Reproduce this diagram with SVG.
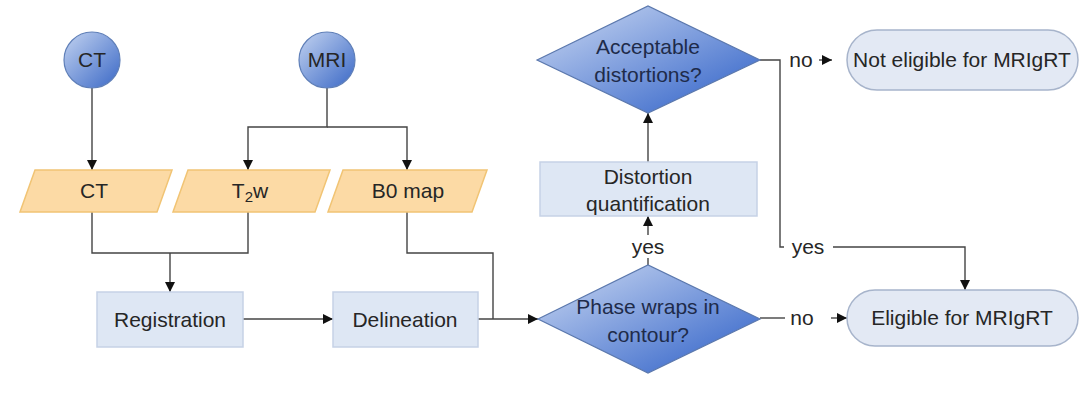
<svg xmlns="http://www.w3.org/2000/svg" width="1082" height="397" viewBox="0 0 1082 397">
<defs>
<linearGradient id="gBlue" x1="0" y1="0" x2="1" y2="1">
<stop offset="0" stop-color="#c3d3f0"/>
<stop offset="1" stop-color="#3a68c6"/>
</linearGradient>
<linearGradient id="gDia" x1="0" y1="0" x2="1" y2="1">
<stop offset="0.1" stop-color="#bccdee"/>
<stop offset="0.9" stop-color="#3b6acb"/>
</linearGradient>
<marker id="arr" viewBox="0 0 10 10" refX="10" refY="5" markerWidth="10" markerHeight="10" markerUnits="userSpaceOnUse" orient="auto">
<path d="M0,0 L10,5 L0,10 Z" fill="#111"/>
</marker>
<style>
text{font-family:"Liberation Sans",Arial,sans-serif;font-size:21px;fill:#262626;text-anchor:middle;}
.circ{fill:url(#gBlue);stroke:#5f7fb8;stroke-width:1.2;}
.dia{fill:url(#gDia);stroke:#5b78ad;stroke-width:1.2;}
.dt{fill:#1e2b4a;}
.para{fill:#fcdaa5;stroke:#f1c474;stroke-width:1.5;}
.box{fill:#dee7f4;stroke:#c6d2e6;stroke-width:1.5;}
.term{fill:#e3e9f4;stroke:#a7b4cb;stroke-width:1.5;}
.con{fill:none;stroke:#444;stroke-width:1.4;}
</style>
</defs>
<g id="connectors">
<path class="con" d="M92,88 V170" marker-end="url(#arr)"/>
<path class="con" d="M327,88 V127 H248 V170" marker-end="url(#arr)"/>
<path class="con" d="M327,127 H407 V170" marker-end="url(#arr)"/>
<path class="con" d="M92,212 V253 H248 V212"/>
<path class="con" d="M170,253 V292" marker-end="url(#arr)"/>
<path class="con" d="M243,319 H333" marker-end="url(#arr)"/>
<path class="con" d="M407,212 V253 H493 V319"/>
<path class="con" d="M478,319 H538" marker-end="url(#arr)"/>
<path class="con" d="M648,265 V258"/>
<path class="con" d="M648,235 V216" marker-end="url(#arr)"/>
<path class="con" d="M648,162 V113" marker-end="url(#arr)"/>
<path class="con" d="M760,60 H780 V247 H784"/>
<path class="con" d="M819,60 H832" marker-end="url(#arr)"/>
<path class="con" d="M833,247 H965 V290" marker-end="url(#arr)"/>
<path class="con" d="M760,318 H785"/>
<path class="con" d="M831,318 H847" marker-end="url(#arr)"/>
<text x="801" y="67">no</text>
<text x="808" y="254">yes</text>
<text x="802" y="325">no</text>
<text x="648" y="254">yes</text>
</g>
<g id="ct-source">
<circle class="circ" cx="92" cy="60" r="28"/>
<text x="92" y="67">CT</text>
</g>
<g id="mri-source">
<circle class="circ" cx="327" cy="60" r="28"/>
<text x="327" y="67">MRI</text>
</g>
<g id="ct-data">
<polygon class="para" points="35,170 172,170 157,212 20,212"/>
<text x="94" y="198">CT</text>
</g>
<g id="t2w-data">
<polygon class="para" points="188,170 330,170 315,212 173,212"/>
<text x="250" y="198">T<tspan font-size="15" dy="4">2</tspan><tspan dy="-4">w</tspan></text>
</g>
<g id="b0-data">
<polygon class="para" points="343,170 487,170 472,212 328,212"/>
<text x="408" y="198">B0 map</text>
</g>
<g id="registration">
<rect class="box" x="97" y="292" width="146" height="55"/>
<text x="170" y="327">Registration</text>
</g>
<g id="delineation">
<rect class="box" x="333" y="292" width="145" height="55"/>
<text x="405" y="327">Delineation</text>
</g>
<g id="phase-wraps">
<polygon class="dia" points="538,319 648,265 760,319 648,373"/>
<text class="dt" x="648" y="314">Phase wraps in</text>
<text class="dt" x="648" y="342">contour?</text>
</g>
<g id="distortion-quantification">
<rect class="box" x="540" y="162" width="217" height="54"/>
<text x="648" y="184">Distortion</text>
<text x="648" y="211">quantification</text>
</g>
<g id="acceptable">
<polygon class="dia" points="537,60 648,6 760,60 648,113"/>
<text class="dt" x="648" y="54">Acceptable</text>
<text class="dt" x="648" y="82">distortions?</text>
</g>
<g id="not-eligible">
<rect class="term" x="847" y="30" width="231" height="60" rx="30"/>
<text x="962" y="67">Not eligible for MRIgRT</text>
</g>
<g id="eligible">
<rect class="term" x="847" y="290" width="231" height="56" rx="28"/>
<text x="962" y="325">Eligible for MRIgRT</text>
</g>
</svg>
